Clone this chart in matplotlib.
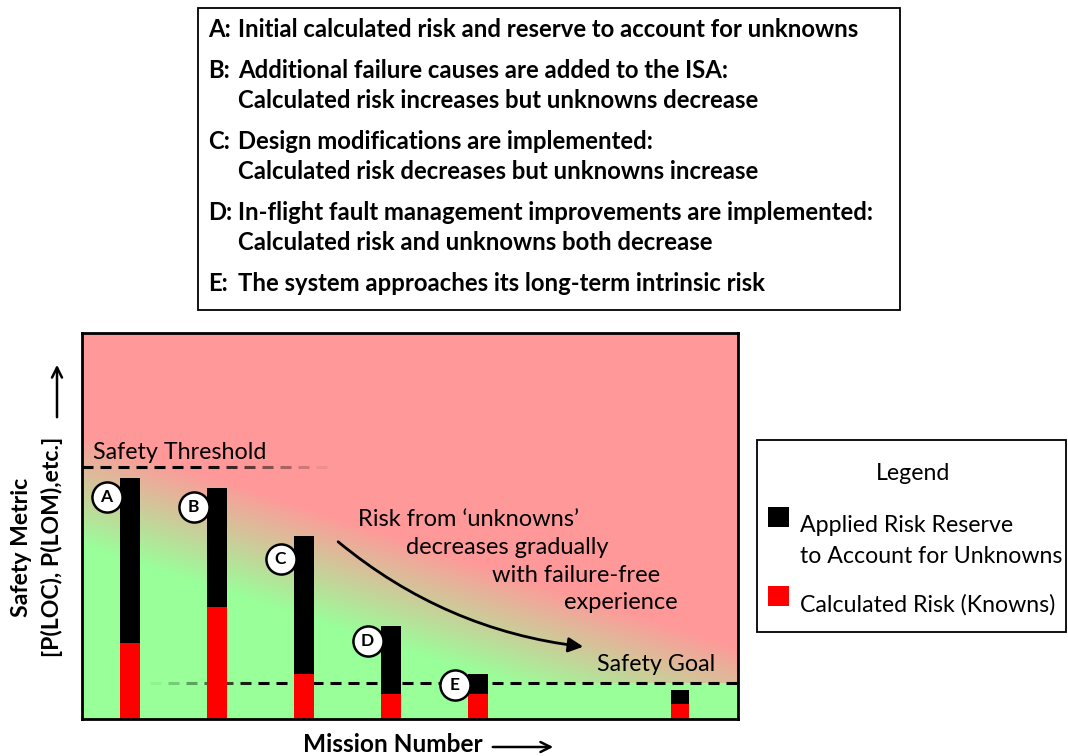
import numpy as np
import matplotlib
matplotlib.use("Agg")
import matplotlib.pyplot as plt
from matplotlib.patches import Rectangle, FancyArrowPatch

# ---------------- data ----------------
stage_labels = ["A", "B", "C", "D", "E", ""]
mission_pos = [1, 2, 3, 4, 5, 7.32]
calculated_risk = [19.7, 29.0, 11.7, 6.5, 6.5, 3.9]      # knowns (red)
total_risk = [62.4, 59.8, 47.4, 24.1, 11.7, 7.5]          # top of stacked bar
reserve = [t - k for t, k in zip(total_risk, calculated_risk)]  # unknowns (black)
label_y = [57.5, 54.9, 41.5, 20.2, 8.8]
safety_threshold = 65.3
safety_goal = 9.3

box_lines = [
    ("A:", ["Initial calculated risk and reserve to account for unknowns"]),
    ("B:", ["Additional failure causes are added to the ISA:",
            "Calculated risk increases but unknowns decrease"]),
    ("C:", ["Design modifications are implemented:",
            "Calculated risk decreases but unknowns increase"]),
    ("D:", ["In-flight fault management improvements are implemented:",
            "Calculated risk and unknowns both decrease"]),
    ("E:", ["The system approaches its long-term intrinsic risk"]),
]
legend_reserve = ["Applied Risk Reserve", "to Account for Unknowns"]
legend_known = "Calculated Risk (Knowns)"
risk_text = ["Risk from \u2018unknowns\u2019", "decreases gradually",
             "with failure-free", "experience"]

FONT = "Lato"
plt.rcParams["font.family"] = [FONT, "DejaVu Sans"]

W, H = 1068, 756
fig = plt.figure(figsize=(W / 100, H / 100), dpi=100)
renderer = fig.canvas.get_renderer()

# main axes in pixel placement
ax_l, ax_r, ax_t, ax_b = 82, 738, 333, 719
ax = fig.add_axes([ax_l / W, 1 - ax_b / H, (ax_r - ax_l) / W, (ax_b - ax_t) / H])
x_lo = 1 - 48 / 87
x_hi = 1 + (ax_r - 130) / 87
ax.set_xlim(x_lo, x_hi)
ax.set_ylim(0, 100)
ax.set_xticks([])
ax.set_yticks([])
for s in ax.spines.values():
    s.set_linewidth(2.0)
    s.set_color("black")
    s.set_zorder(10)

# background gradient (pixel grid of axes)
pw, ph = ax_r - ax_l, ax_b - ax_t
xx, yy = np.meshgrid(np.arange(pw) + 0.5, np.arange(ph) + 0.5)
yy_up = ph - yy
p0 = np.array([0.0, 229.0]); p1 = np.array([586.0, 39.0])
d = p1 - p0
nrm = np.array([-d[1], d[0]]) / np.hypot(*d)
dist = (xx - p0[0]) * nrm[0] + (yy_up - p0[1]) * nrm[1]
t = np.clip(0.5 + dist / 105.0, 0, 1)
red = np.array([255, 153, 153]) / 255
green = np.array([153, 255, 153]) / 255
img = green[None, None, :] * (1 - t[..., None]) + red[None, None, :] * t[..., None]
goal_px = safety_goal * ph / 100
img[yy_up < goal_px] = green
ax.imshow(img, extent=[x_lo, x_hi, 0, 100], aspect="auto", origin="upper", zorder=0)

# bars
widths = [0.23, 0.23, 0.23, 0.23, 0.23, 0.21]
ax.bar(mission_pos, calculated_risk, width=widths, color="#FF0000", zorder=3)
ax.bar(mission_pos, reserve, bottom=calculated_risk, width=widths, color="black", zorder=3)

# faded dashed lines
px_per_x = 87.0
def faded_dash(y, x0px, x1px, alpha_fn, dash=11, gap=7, lw=2.2):
    x = x0px
    while x < x1px:
        xe = min(x + dash, x1px)
        a = alpha_fn((x + xe) / 2)
        if a > 0.02:
            ax.plot([1 + (x - 130) / px_per_x, 1 + (xe - 130) / px_per_x], [y, y],
                    color=(0, 0, 0, a), lw=lw, solid_capstyle="butt", zorder=2)
        x += dash + gap

faded_dash(safety_threshold, 82, 345, lambda x: float(np.clip((330 - x) / 130, 0, 1)))
faded_dash(safety_goal, 150, 738, lambda x: float(np.clip((x - 150) / 110, 0, 1)))

# circle labels
for lab, px, py in zip(stage_labels[:5], mission_pos[:5], label_y):
    ax.scatter([px - 0.27], [py], s=470, facecolor="white", edgecolor="black",
               linewidth=1.8, zorder=5)
    ax.text(px - 0.27, py, lab, ha="center", va="center", fontsize=12.5,
            fontweight="bold", zorder=6)

# curved arrow (pixel -> data)
def to_data(px, py):
    return (1 + (px - 130) / px_per_x, (ax_b - py) * 100 / ph)
arr = FancyArrowPatch(to_data(336, 540), to_data(586, 647),
                      connectionstyle="arc3,rad=0.15", arrowstyle="-|>",
                      mutation_scale=22, lw=2.0, color="black", zorder=4)
ax.add_patch(arr)

# overlay in pixel coordinates
ov = fig.add_axes([0, 0, 1, 1], facecolor="none")
ov.set_xlim(0, W)
ov.set_ylim(H, 0)
ov.axis("off")

def fit(txt, target, use_height=False):
    bb = txt.get_window_extent(renderer)
    cur = bb.height if use_height else bb.width
    txt.set_fontsize(txt.get_fontsize() * target / cur)

# in-plot texts
tt = ov.text(93, 459, "Safety Threshold", fontsize=16, va="baseline")
fit(tt, 174)
tg = ov.text(597, 671, "Safety Goal", fontsize=16, va="baseline")
fit(tg, 118)
risk_x = [358, 406, 492, 564]
risk_w = [222, 204, 166, 114]
risk_base = [526, 554, 582, 609]
t0 = ov.text(risk_x[0], risk_base[0], risk_text[0], fontsize=16, va="baseline")
fit(t0, risk_w[0])
fs_risk = t0.get_fontsize()
for x, yb, s in zip(risk_x[1:], risk_base[1:], risk_text[1:]):
    ov.text(x, yb, s, fontsize=fs_risk, va="baseline")

# top box
ov.add_patch(Rectangle((198, 8), 702, 302, fill=False, edgecolor="black", lw=1.3))
probe = ov.text(238, 37, box_lines[0][1][0], fontsize=15, fontweight="bold", va="baseline")
fit(probe, 622)
fs_box = probe.get_fontsize()
probe.remove()
baselines = [[37], [78, 108], [149, 179], [220, 250], [291]]
for (pre, lines), bls in zip(box_lines, baselines):
    ov.text(208, bls[0], pre, fontsize=fs_box, fontweight="bold", va="baseline")
    for ln, b in zip(lines, bls):
        ov.text(238, b, ln, fontsize=fs_box, fontweight="bold", va="baseline")

# legend box
ov.add_patch(Rectangle((757, 440), 309, 192, fill=False, edgecolor="black", lw=1.3))
tl = ov.text(913, 480, "Legend", fontsize=14, ha="center", va="baseline")
ov.add_patch(Rectangle((768, 507), 21, 20, facecolor="black", edgecolor="none"))
ov.add_patch(Rectangle((768, 586), 21, 20, facecolor="#FF0000", edgecolor="none"))
ta = ov.text(800, 563, legend_reserve[1], fontsize=14, va="baseline")
fit(ta, 264)
fs_leg = ta.get_fontsize()
tl.set_fontsize(fs_leg)
ov.text(800, 532, legend_reserve[0], fontsize=fs_leg, va="baseline")
ov.text(800, 612, legend_known, fontsize=fs_leg, va="baseline")

# axis labels
y1 = ov.text(22, 547, "Safety Metric", rotation=90, ha="center", va="center",
             fontsize=14, fontweight="bold")
fit(y1, 140, use_height=True)
y2 = ov.text(52, 547, "[P(LOC), P(LOM),etc.]", rotation=90, ha="center", va="center",
             fontsize=y1.get_fontsize(), fontweight="bold")
ov.annotate("", xy=(57, 362), xytext=(57, 420),
            arrowprops=dict(arrowstyle="->", lw=1.8, color="black", mutation_scale=18))
xl = ov.text(303, 752, "Mission Number", fontsize=14, fontweight="bold", va="baseline")
fit(xl, 180)
ov.annotate("", xy=(556, 747), xytext=(490, 747),
            arrowprops=dict(arrowstyle="->", lw=1.8, color="black", mutation_scale=18))

fig.savefig("out.png", dpi=100)
